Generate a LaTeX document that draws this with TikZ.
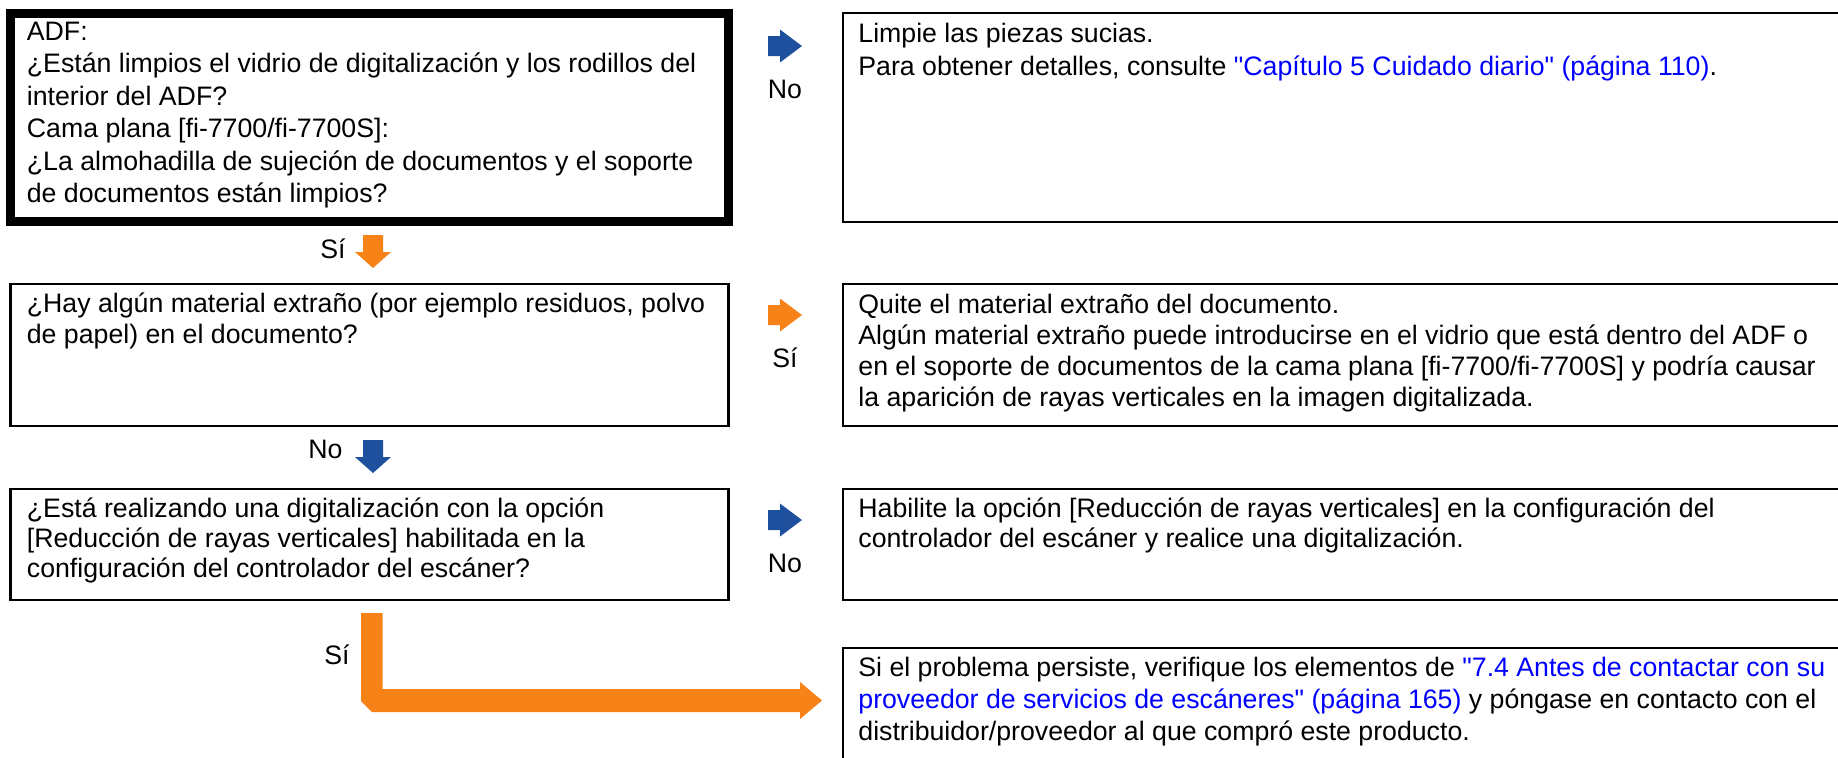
\documentclass[tikz,border=0pt]{standalone}
\usepackage{fontspec}
\setmainfont{Liberation Sans}
\newfontfamily\lsans{Liberation Sans}
\usetikzlibrary{fit}
\definecolor{ablue}{RGB}{31,80,158}
\definecolor{aorange}{RGB}{247,130,24}
\definecolor{lnk}{RGB}{0,0,255}
\newcommand{\lk}[1]{\textcolor{lnk}{#1}}
\newcommand{\st}{\rule{0pt}{10.5pt}}
\begin{document}
\begin{tikzpicture}[x=0.5pt,y=-0.5pt,
  thinbox/.style={draw=black, line width=1.2pt, inner sep=0pt},
  thickbox/.style={draw=black, line width=4.5pt, inner sep=0pt},
  txt/.style={anchor=north west, inner sep=0pt, align=left, font=\lsans\fontsize{13.35}{#1}\selectfont},
  lbl/.style={anchor=base, inner sep=0pt, font=\lsans\fontsize{13.35}{16}\selectfont},
]
\useasboundingbox (0,0) rectangle (1838,757);
\clip (0,0) rectangle (1838,757);

% boxes
\node[thickbox, fit={(10.5,13.5) (728.5,221.5)}] (q1) {};
\node[thinbox, fit={(843,13) (1850,222)}] (a1) {};
\node[thinbox, fit={(10.5,284) (728.5,426)}] (q2) {};
\node[thinbox, fit={(843,284) (1850,426)}] (a2) {};
\node[thinbox, fit={(10.5,489) (728.5,600)}] (q3) {};
\node[thinbox, fit={(843,489) (1850,600)}] (a3) {};
\node[thinbox, fit={(843,648) (1850,780)}] (a4) {};

% texts
\node[txt=16.25pt] (q1t) at (26.5,19) {\st ADF:\\
¿Están limpios el vidrio de digitalización y los rodillos del\\
interior del ADF?\\
Cama plana [fi-7700/fi-7700S]:\\
¿La almohadilla de sujeción de documentos y el soporte\\
de documentos están limpios?};

\node[txt=16.5pt] (a1t) at (858,21) {\st Limpie las piezas sucias.\\
Para obtener detalles, consulte \lk{"Capítulo 5 Cuidado diario" (página 110)}.};

\node[txt=15.5pt] (q2t) at (26.5,291) {\st ¿Hay algún material extraño (por ejemplo residuos, polvo\\
de papel) en el documento?};

\node[txt=15.5pt] (a2t) at (858,292) {\st Quite el material extraño del documento.\\
Algún material extraño puede introducirse en el vidrio que está dentro del ADF o\\
en el soporte de documentos de la cama plana [fi-7700/fi-7700S] y podría causar\\
la aparición de rayas verticales en la imagen digitalizada.};

\node[txt=15pt] (q3t) at (26.5,496) {\st ¿Está realizando una digitalización con la opción\\
{[}Reducción de rayas verticales] habilitada en la\\
configuración del controlador del escáner?};

\node[txt=15pt] (a3t) at (858,496) {\st Habilite la opción [Reducción de rayas verticales] en la configuración del\\
controlador del escáner y realice una digitalización.};

\node[txt=16pt] (a4t) at (858,655) {\st Si el problema persiste, verifique los elementos de \lk{"7.4 Antes de contactar con su}\\
\lk{proveedor de servicios de escáneres" (página 165)} y póngase en contacto con el\\
distribuidor/proveedor al que compró este producto.};

% right arrows
\fill[ablue, shift={(0,46)}] (768,-10) -- (780,-10) -- (780,-16.5) -- (802,0) -- (780,16.5) -- (780,10) -- (768,10) -- cycle;
\node[lbl] (l1) at (785,98) {No};
\fill[aorange, shift={(0,315)}] (768,-10) -- (780,-10) -- (780,-16.5) -- (802,0) -- (780,16.5) -- (780,10) -- (768,10) -- cycle;
\node[lbl] (l2) at (785,367) {Sí};
\fill[ablue, shift={(0,520)}] (768,-10) -- (780,-10) -- (780,-16.5) -- (802,0) -- (780,16.5) -- (780,10) -- (768,10) -- cycle;
\node[lbl] (l3) at (785,572) {No};

% down arrows
\fill[aorange, shift={(373,235)}] (-10,0) -- (10,0) -- (10,17) -- (18,17) -- (0,33) -- (-18,17) -- (-10,17) -- cycle;
\node[lbl, anchor=base east] (l4) at (346,258) {Sí};
\fill[ablue, shift={(373,440)}] (-10,0) -- (10,0) -- (10,17) -- (18,17) -- (0,33) -- (-18,17) -- (-10,17) -- cycle;
\node[lbl, anchor=base east] (l5) at (343,458) {No};

% L arrow
\fill[aorange] (361,613) -- (382.5,613) -- (382.5,689) -- (800,689) -- (800,682) -- (822,700.5) -- (800,719) -- (800,712) -- (372,712) -- (361,701) -- cycle;
\node[lbl, anchor=base east] (l6) at (350,664) {Sí};
\end{tikzpicture}
\end{document}
